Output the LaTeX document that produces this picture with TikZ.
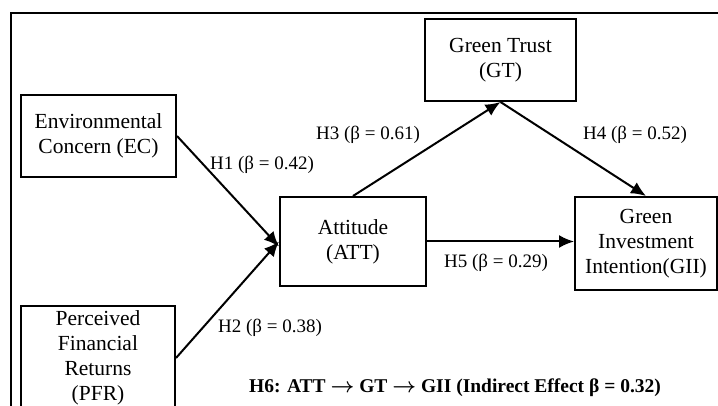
\documentclass[tikz,border=0pt]{standalone}
\usepackage{fontspec}
\setmainfont{Liberation Serif}
\usetikzlibrary{arrows.meta}

\tikzset{
  varbox/.style={draw, line width=2pt, align=center, inner sep=0pt,
    font=\fontsize{21.5}{25}\selectfont},
  hyplabel/.style={inner sep=0.75pt, font=\fontsize{19}{22}\selectfont},
  patharrow/.style={line width=2pt, -{Latex[length=15pt,width=13pt]}},
}

\begin{document}
\begin{tikzpicture}[x=1pt,y=1pt,yscale=-1,xscale=1]
    \clip (0,0) rectangle (718,406);

    %Shape: Frame
    \draw [line width=2pt]   (11,406) -- (11,13) -- (718,13) ;

    %Shape: Rectangle EC
    \node [varbox, minimum width=155, minimum height=82] (EC) at (98.5,136) {Environmental\\Concern (EC)};
    %Shape: Rectangle PFR
    \node [varbox, minimum width=154, minimum height=104] (PFR) at (98,358) {Perceived\\Financial\\Returns\\(PFR)};
    %Shape: Rectangle ATT
    \node [varbox, minimum width=146, minimum height=89] (ATT) at (353,241.5) {Attitude\\(ATT)};
    %Shape: Rectangle GT
    \node [varbox, minimum width=151, minimum height=82] (GT) at (500.5,60) {Green Trust\\(GT)};
    %Shape: Rectangle GII
    \node [varbox, minimum width=142, minimum height=93] (GII) at (646,243.5) {Green\\Investment\\Intention(GII)};

    %Straight Lines
    \draw [patharrow]   (EC.east) -- ([yshift=5pt]ATT.west) ;
    \draw [patharrow]   (PFR.east) -- (ATT.west) ;
    \draw [patharrow]   (ATT.north) -- (GT.south) ;
    \draw [patharrow]   (GT.south) -- (GII.north) ;
    \draw [patharrow]   (ATT.east) -- (ATT.east -| GII.west) ;

    % Text Node
    \node [hyplabel] (H1) at (262,165) {H1 (β = 0.42)};
    % Text Node
    \node [hyplabel] (H2) at (270,328) {H2 (β = 0.38)};
    % Text Node
    \node [hyplabel] (H3) at (368,135) {H3 (β = 0.61)};
    % Text Node
    \node [hyplabel] (H4) at (635,135) {H4 (β = 0.52)};
    % Text Node
    \node [hyplabel] (H5) at (496,263) {H5 (β = 0.29)};
    % Text Node
    \node [hyplabel, font=\fontsize{19.5}{22}\selectfont\bfseries\boldmath] (H6) at (455,388) {H6: ATT $\rightarrow$ GT $\rightarrow$ GII (Indirect Effect β = 0.32)};

\end{tikzpicture}
\end{document}
